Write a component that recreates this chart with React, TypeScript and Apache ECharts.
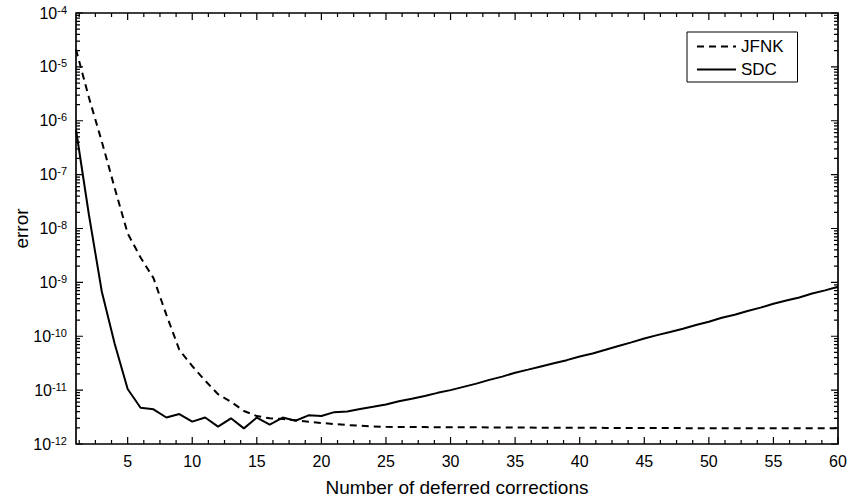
import { useEffect, useRef } from "react";
import * as echarts from "echarts";

// Iteration counts on the horizontal axis
const corrections = [
  1, 2, 3, 4, 5, 6, 7, 8, 9, 10, 11, 12, 13, 14, 15, 16, 17, 18, 19, 20,
  21, 22, 23, 24, 25, 26, 27, 28, 29, 30, 31, 32, 33, 34, 35, 36, 37, 38, 39, 40,
  41, 42, 43, 44, 45, 46, 47, 48, 49, 50, 51, 52, 53, 54, 55, 56, 57, 58, 59, 60,
];

// Error after each correction, Jacobian-free Newton-Krylov
const jfnkError = [
  2.1e-5, 2.7e-6, 4.1e-7, 5.6e-8, 8.1e-9, 2.9e-9, 1.2e-9, 2.5e-10, 5.6e-11, 2.8e-11,
  1.5e-11, 8.4e-12, 6.1e-12, 4.1e-12, 3.3e-12, 3.0e-12, 2.9e-12, 2.75e-12, 2.6e-12, 2.45e-12,
  2.35e-12, 2.25e-12, 2.18e-12, 2.12e-12, 2.08e-12, 2.07e-12, 2.06e-12, 2.06e-12, 2.05e-12, 2.05e-12,
  2.04e-12, 2.04e-12, 2.03e-12, 2.03e-12, 2.02e-12, 2.02e-12, 2.01e-12, 2.01e-12, 2.0e-12, 2.0e-12,
  2.0e-12, 1.99e-12, 1.99e-12, 1.99e-12, 1.98e-12, 1.98e-12, 1.98e-12, 1.97e-12, 1.97e-12, 1.97e-12,
  1.97e-12, 1.96e-12, 1.96e-12, 1.96e-12, 1.96e-12, 1.95e-12, 1.95e-12, 1.95e-12, 1.95e-12, 1.95e-12,
];

// Error after each correction, spectral deferred correction sweeps
const sdcError = [
  6.8e-7, 1.8e-8, 6.7e-10, 7.2e-11, 1.05e-11, 4.7e-12, 4.4e-12, 3.1e-12, 3.6e-12, 2.6e-12,
  3.1e-12, 2.1e-12, 3.0e-12, 1.95e-12, 3.1e-12, 2.3e-12, 3.1e-12, 2.7e-12, 3.4e-12, 3.3e-12,
  3.9e-12, 4.0e-12, 4.45e-12, 4.9e-12, 5.4e-12, 6.2e-12, 6.9e-12, 7.8e-12, 8.9e-12, 1.0e-11,
  1.15e-11, 1.32e-11, 1.55e-11, 1.78e-11, 2.1e-11, 2.4e-11, 2.75e-11, 3.15e-11, 3.6e-11, 4.2e-11,
  4.8e-11, 5.6e-11, 6.6e-11, 7.7e-11, 9.1e-11, 1.05e-10, 1.2e-10, 1.38e-10, 1.62e-10, 1.86e-10,
  2.2e-10, 2.5e-10, 2.95e-10, 3.4e-10, 4.0e-10, 4.6e-10, 5.25e-10, 6.2e-10, 7.1e-10, 8.3e-10,
];

// Axis ticks
const xMajorTicks = [5, 10, 15, 20, 25, 30, 35, 40, 45, 50, 55, 60];
const yDecades = [1e-12, 1e-11, 1e-10, 1e-9, 1e-8, 1e-7, 1e-6, 1e-5, 1e-4];

const X_MIN = 1;
const X_MAX = 60;
const Y_MIN = 1e-12;
const Y_MAX = 1e-4;

// minor ticks every quarter of a major step on x, and 2..9 within each decade on y
const xMinorTicks: number[] = [];
for (let v = 1.25; v < X_MAX; v += 1.25) {
  if (Math.abs(v / 5 - Math.round(v / 5)) > 1e-9) xMinorTicks.push(v);
}
const yMinorTicks: number[] = [];
for (let e = -12; e < -4; e++) {
  for (let m = 2; m <= 9; m++) yMinorTicks.push(Number((m * Math.pow(10, e)).toPrecision(3)));
}

// plot frame
const GRID_LEFT = 76;
const GRID_TOP = 13;
const GRID_W = 762;
const GRID_H = 431;

const FONT = "'Liberation Sans', Arial, Helvetica, sans-serif";
const INK = "#000";
const MAJOR_LEN = 7;
const MINOR_LEN = 4;

export default function App() {
  const ref = useRef<HTMLDivElement>(null);

  useEffect(() => {
    if (!ref.current) return;
    const chart = echarts.init(ref.current, undefined, { renderer: "svg" });

    // axes, frame and curves
    chart.setOption({
      animation: false,
      backgroundColor: "#fff",
      textStyle: { fontFamily: FONT },
      grid: {
        left: GRID_LEFT,
        top: GRID_TOP,
        width: GRID_W,
        height: GRID_H,
        show: true,
        borderColor: INK,
        borderWidth: 1.2,
        backgroundColor: "transparent",
        outerBoundsMode: "none",
      },
      xAxis: {
        type: "value",
        min: X_MIN,
        max: X_MAX,
        splitLine: { show: false },
        axisLine: { show: false },
        axisTick: { show: false },
        axisLabel: { show: true, customValues: xMajorTicks, color: INK, fontSize: 16, fontFamily: FONT, margin: 9 },
        name: "Number of deferred corrections",
        nameLocation: "middle",
        nameGap: 34,
        nameMoveOverlap: false,
        nameTextStyle: { color: INK, fontSize: 19, fontFamily: FONT },
      },
      yAxis: {
        type: "log",
        logBase: 10,
        min: Y_MIN,
        max: Y_MAX,
        splitLine: { show: false },
        axisLine: { show: false },
        axisTick: { show: false },
        axisLabel: {
          show: true,
          customValues: yDecades,
          margin: 9,
          formatter: (v: number) => `{b|10}{e|${Math.round(Math.log10(v))}}`,
          rich: {
            b: { fontSize: 16, fontFamily: FONT, color: INK, lineHeight: 18 },
            e: { fontSize: 11, fontFamily: FONT, color: INK, lineHeight: 12, verticalAlign: "top" },
          },
        },
        name: "error",
        nameLocation: "middle",
        nameGap: 45,
        nameMoveOverlap: false,
        nameTextStyle: { color: INK, fontSize: 19, fontFamily: FONT },
      },
      series: [
        {
          name: "JFNK",
          type: "line",
          symbol: "none",
          z: 3,
          data: corrections.map((c, i) => [c, jfnkError[i]]),
          lineStyle: { color: INK, width: 2, type: [7, 5] },
          itemStyle: { color: INK },
        },
        {
          name: "SDC",
          type: "line",
          symbol: "none",
          z: 3,
          data: corrections.map((c, i) => [c, sdcError[i]]),
          lineStyle: { color: INK, width: 2, type: "solid" },
          itemStyle: { color: INK },
        },
      ],
    });

    // inward tick marks on all four edges; each tick's position comes from the chart's own scales
    const bottom = GRID_TOP + GRID_H;
    const right = GRID_LEFT + GRID_W;
    const xPx = (v: number) => (chart.convertToPixel({ gridIndex: 0 }, [v, 1e-8]) as number[])[0];
    const yPx = (v: number) => (chart.convertToPixel({ gridIndex: 0 }, [30, v]) as number[])[1];

    const xTicks = xMajorTicks
      .map((v) => ({ p: xPx(v), len: MAJOR_LEN }))
      .concat(xMinorTicks.map((v) => ({ p: xPx(v), len: MINOR_LEN })))
      .sort((a, b) => a.p - b.p);
    const yTicks = yDecades
      .map((v) => ({ p: yPx(v), len: MAJOR_LEN }))
      .concat(yMinorTicks.map((v) => ({ p: yPx(v), len: MINOR_LEN })))
      .sort((a, b) => a.p - b.p);

    // one comb-shaped polyline per edge
    const comb = (edge: "bottom" | "top" | "left" | "right") => {
      const pts: number[][] = [];
      if (edge === "bottom" || edge === "top") {
        const base = edge === "bottom" ? bottom : GRID_TOP;
        const dir = edge === "bottom" ? -1 : 1;
        pts.push([GRID_LEFT, base]);
        xTicks.forEach((t) => {
          pts.push([t.p, base], [t.p, base + dir * t.len], [t.p, base]);
        });
        pts.push([right, base]);
      } else {
        const base = edge === "left" ? GRID_LEFT : right;
        const dir = edge === "left" ? 1 : -1;
        pts.push([base, GRID_TOP]);
        yTicks.forEach((t) => {
          pts.push([base, t.p], [base + dir * t.len, t.p], [base, t.p]);
        });
        pts.push([base, bottom]);
      }
      return {
        type: "polyline",
        z: 100,
        shape: { points: pts },
        style: { stroke: INK, lineWidth: 1.2, fill: "none" },
      };
    };

    chart.setOption({
      graphic: [comb("bottom"), comb("top"), comb("left"), comb("right")],
    });

    // boxed legend in the upper right
    chart.setOption({
      legend: {
        data: ["JFNK", "SDC"],
        orient: "vertical",
        left: 687,
        top: 32,
        padding: [6, 14, 4, 9],
        itemGap: 6,
        itemWidth: 39,
        itemHeight: 14,
        borderColor: INK,
        borderWidth: 1,
        backgroundColor: "#fff",
        itemStyle: { opacity: 0 },
        textStyle: { color: INK, fontSize: 17, fontFamily: FONT, lineHeight: 17 },
      },
    });

    return () => chart.dispose();
  }, []);

  return (
    <div
      ref={ref}
      style={{ position: "absolute", left: 0, top: 0, width: 851, height: 501, background: "#fff" }}
    />
  );
}
